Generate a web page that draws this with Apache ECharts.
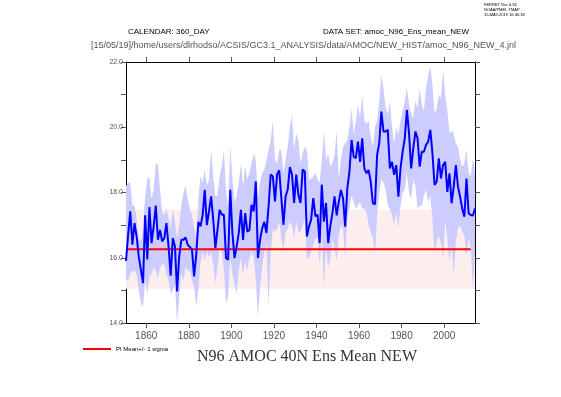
<!DOCTYPE html>
<html>
<head>
<meta charset="utf-8">
<script src="https://cdn.jsdelivr.net/npm/echarts@6/dist/echarts.min.js"></script>
<style>
  html, body { margin: 0; padding: 0; background: #ffffff; }
  #chart { width: 561px; height: 397px; }
</style>
</head>
<body>
<div id="chart"></div>
<script>
// annual means, first value is year 1850 (plotted at mid-year)
const FIRST_YEAR = 1850.5;

const amocMean = [
  15.9, 16.7, 17.42, 16.4, 17.06, 16.65, 16.04, 15.63, 15.22, 17.3,
  15.95, 17.55, 16.45, 16.96, 17.6, 16.55, 16.85, 16.5, 16.6, 17.06,
  16.35, 15.45, 16.6, 16.35, 14.97, 16.04, 16.55, 16.55, 16.62, 16.4,
  16.33, 16.25, 15.43, 16.1, 17.1, 16.96, 17.3, 18.08, 17.0, 17.42,
  17.88, 17.16, 16.3, 16.86, 17.47, 17.32, 17.32, 15.99, 15.94, 18.08,
  16.76, 15.99, 16.35, 16.76, 17.47, 16.55, 17.37, 16.8, 16.85, 17.62,
  17.42, 18.34, 15.99, 16.55, 16.9, 17.1, 16.76, 17.57, 18.55, 18.5,
  17.73, 18.55, 18.68, 17.83, 17.01, 17.88, 18.09, 18.78, 18.55, 17.68,
  18.55, 17.93, 17.68, 18.7, 18.65, 16.65, 16.96, 17.17, 17.83, 17.27,
  17.32, 16.45, 18.24, 17.11, 17.68, 16.45, 16.96, 17.37, 17.88, 17.3,
  17.72, 18.08, 17.82, 16.95, 18.13, 18.64, 19.61, 19.1, 19.05, 19.56,
  18.94, 19.66, 18.74, 18.59, 18.69, 18.33, 17.67, 17.64, 19.15, 19.51,
  20.48, 19.87, 19.87, 19.92, 18.74, 18.94, 18.54, 18.84, 17.87, 18.74,
  19.25, 19.66, 20.53, 19.81, 18.74, 19.35, 19.87, 19.66, 18.79, 19.25,
  19.25, 19.46, 19.56, 19.92, 19.2, 18.23, 18.33, 19.05, 18.43, 18.84,
  18.94, 18.02, 18.59, 17.67, 18.18, 18.84, 18.18, 17.87, 17.51, 17.26,
  18.43, 17.36, 17.31, 17.29, 17.51
];

const amocUpper = [
  18.2, 18.3, 18.3, 17.6, 17.6, 17.2, 16.6, 16.5, 16.9, 17.9,
  18.4, 18.5, 17.8, 18.1, 18.9, 18.85, 18.1, 17.4, 17.3, 17.5,
  17.2, 16.9, 17.5, 17.1, 16.6, 17.0, 17.6, 18.0, 18.2, 17.8,
  17.5, 17.3, 16.9, 16.6, 17.8, 18.5, 18.3, 18.7, 18.2, 18.4,
  19.3, 18.5, 17.9, 17.9, 18.5, 18.8, 19.3, 18.0, 17.6, 19.45,
  18.4, 17.7, 17.9, 18.3, 18.9, 18.2, 18.8, 18.4, 18.6, 18.9,
  19.2, 19.0, 17.8, 18.3, 18.6, 18.7, 19.0, 19.3, 19.6, 20.2,
  19.0, 18.9, 19.3, 19.3, 18.6, 19.0, 19.4, 20.0, 20.4, 19.3,
  19.8, 19.6, 18.9, 19.2, 19.4, 19.3, 18.4, 18.4, 18.5, 18.6,
  18.4, 18.3, 19.0, 19.9, 19.0, 19.2, 18.8, 18.9, 19.15, 19.9,
  18.4, 19.0, 19.4, 19.5, 19.6, 20.0, 20.6, 19.8, 20.2, 20.7,
  20.3, 21.0, 20.2, 20.1, 20.2, 19.7, 19.4, 20.0, 20.2, 20.8,
  21.6, 21.2, 20.6, 20.4, 20.8, 20.0, 19.5, 20.0, 19.8, 20.2,
  20.5, 20.8, 21.2, 20.7, 20.4, 20.3, 20.8, 20.6, 21.2, 20.7,
  20.5, 21.2, 21.6, 21.86, 21.3, 20.4, 20.6, 21.0, 20.9, 21.76,
  21.0, 20.5, 19.8, 19.9, 19.8, 19.5, 19.4, 19.0, 18.8, 18.9,
  19.3, 18.6, 18.5, 19.05, 18.6
];

const amocLower = [
  15.3, 15.3, 15.5, 15.6, 15.6, 15.5, 15.0, 14.6, 14.5, 15.3,
  14.9, 15.4, 15.5, 15.7, 15.6, 15.4, 15.7, 15.8, 15.8, 15.5,
  15.3, 14.9, 15.0, 15.2, 14.0, 14.8, 15.5, 15.3, 15.7, 15.6,
  15.6, 15.3, 15.1, 14.5, 15.0, 15.8, 16.2, 15.9, 16.2, 16.0,
  16.2, 15.8, 15.2, 15.7, 16.3, 16.2, 15.6, 14.6, 14.8, 16.0,
  15.5, 15.2, 14.9, 15.6, 16.0, 15.5, 15.9, 15.6, 16.0, 16.2,
  16.0, 15.3, 14.2, 15.1, 15.7, 16.2, 16.4, 14.5, 16.1, 16.9,
  16.8, 16.9, 17.1, 16.6, 16.25, 16.8, 16.9, 17.1, 17.0, 16.6,
  17.1, 16.8, 16.8, 17.0, 17.2, 15.94, 16.0, 16.2, 16.4, 16.6,
  16.6, 15.8, 16.6, 15.1, 16.3, 15.7, 16.0, 16.6, 16.3, 15.9,
  16.7, 17.0, 16.9, 16.0, 17.2, 17.5, 17.9, 17.7, 17.5, 17.6,
  17.7, 17.5, 17.5, 17.4, 17.0, 16.8, 16.6, 16.1, 17.3, 18.0,
  18.4, 18.3, 18.1, 17.6, 17.5, 17.3, 17.0, 17.4, 16.9, 17.6,
  18.0, 18.1, 18.6, 18.0, 17.8, 18.4, 18.2, 17.5, 17.6, 17.6,
  17.9, 18.1, 17.7, 17.9, 17.2, 16.1, 16.5, 16.7, 16.4, 15.98,
  17.1, 16.6, 15.88, 16.4, 15.47, 16.5, 16.9, 17.0, 16.8, 16.7,
  16.08, 16.6, 16.3, 15.06, 16.1
];

// pre-industrial control mean and spread
const PI_MEAN = 16.26;
const PI_SIGMA = 1.21;
const PI_LINE_END = 2012.5;

const X_TICKS = [1860, 1880, 1900, 1920, 1940, 1960, 1980, 2000];

const years = amocMean.map((_, i) => FIRST_YEAR + i);
const xMin = FIRST_YEAR;
const xMax = FIRST_YEAR + amocMean.length - 1;

const chart = echarts.init(document.getElementById("chart"));

const axisFont = "'Liberation Sans', Arial, sans-serif";
const boxLine = { show: true, lineStyle: { color: "#000000", width: 1 } };

const xAxisBase = {
  type: "value",
  min: xMin,
  max: xMax,
  axisLine: boxLine,
  splitLine: { show: false },
  axisTick: { show: true, inside: false, length: 5, customValues: X_TICKS, lineStyle: { color: "#555555" } }
};

const yAxisBase = {
  type: "value",
  min: 14,
  max: 22,
  interval: 1,
  axisLine: boxLine,
  splitLine: { show: false },
  axisTick: { show: true, inside: false, length: 5, lineStyle: { color: "#555555" } }
};

// ensemble spread drawn as one polygon: upper edge forward, lower edge back
function renderSpread(params, api) {
  if (params.dataIndex !== 0) {
    return null;
  }
  const pts = [];
  for (let i = 0; i < years.length; i++) {
    pts.push(api.coord([years[i], amocUpper[i]]));
  }
  for (let i = years.length - 1; i >= 0; i--) {
    pts.push(api.coord([years[i], amocLower[i]]));
  }
  return {
    type: "polygon",
    shape: { points: pts },
    style: { fill: "#ccccff", stroke: null }
  };
}

const option = {
  animation: false,
  backgroundColor: "#ffffff",
  grid: { left: 126, top: 62, width: 349, height: 261 },
  legend: {
    data: ["PI Mean+/- 1 sigma"],
    left: 78,
    top: 341,
    icon: "rect",
    itemWidth: 28,
    itemHeight: 2,
    itemGap: 4,
    textStyle: { fontSize: 6, color: "#000000", fontFamily: axisFont }
  },
  xAxis: [
    Object.assign({}, xAxisBase, {
      position: "bottom",
      axisLabel: {
        customValues: X_TICKS,
        fontSize: 10,
        color: "#555555",
        fontFamily: axisFont,
        margin: 8,
        formatter: v => String(v)
      }
    }),
    Object.assign({}, xAxisBase, {
      position: "top",
      axisLabel: { show: false }
    })
  ],
  yAxis: [
    Object.assign({}, yAxisBase, {
      position: "left",
      axisLabel: {
        fontSize: 7,
        color: "#555555",
        fontFamily: axisFont,
        margin: 3,
        formatter: v => (v % 2 === 0 ? v.toFixed(1) : "")
      }
    }),
    Object.assign({}, yAxisBase, {
      position: "right",
      axisLabel: { show: false }
    })
  ],
  series: [
    {
      name: "pi band",
      type: "line",
      symbol: "none",
      silent: true,
      z: 1,
      lineStyle: { width: 0, opacity: 0 },
      data: [[xMin, PI_MEAN], [xMax, PI_MEAN]],
      markArea: {
        silent: true,
        itemStyle: { color: "#fdeeee" },
        data: [[
          { xAxis: xMin, yAxis: PI_MEAN - PI_SIGMA },
          { xAxis: xMax, yAxis: PI_MEAN + PI_SIGMA }
        ]]
      }
    },
    {
      name: "spread",
      type: "custom",
      silent: true,
      z: 2,
      clip: true,
      renderItem: renderSpread,
      encode: { x: 0, y: [1, 2] },
      data: years.map((y, i) => [y, amocLower[i], amocUpper[i]])
    },
    {
      name: "PI Mean+/- 1 sigma",
      type: "line",
      symbol: "none",
      silent: true,
      z: 3,
      itemStyle: { color: "#ff0000" },
      lineStyle: { color: "#ff0000", width: 2 },
      data: [[xMin, PI_MEAN], [PI_LINE_END, PI_MEAN]]
    },
    {
      name: "ens mean",
      type: "line",
      symbol: "none",
      silent: true,
      z: 4,
      lineStyle: { color: "#0000ff", width: 2 },
      data: years.map((y, i) => [y, amocMean[i]])
    }
  ],
  graphic: [
    {
      type: "text", left: 128, top: 28,
      style: { text: "CALENDAR: 360_DAY", fill: "#000000", fontSize: 8, fontFamily: axisFont }
    },
    {
      type: "text", left: 323, top: 28,
      style: { text: "DATA SET: amoc_N96_Ens_mean_NEW", fill: "#000000", fontSize: 8, fontFamily: axisFont }
    },
    {
      type: "text", left: 91, top: 41,
      style: {
        text: "[15/05/19]/home/users/dlrhodso/ACSIS/GC3.1_ANALYSIS/data/AMOC/NEW_HIST/amoc_N96_NEW_4.jnl",
        fill: "#555555", fontSize: 9, fontFamily: axisFont
      }
    },
    {
      type: "text", left: 484, top: 2,
      style: {
        text: "FERRET Ver. 6.82\nNOAA/PMEL TMAP\n15-MAY-2019 16:46:38",
        fill: "#000000", fontSize: 4, lineHeight: 5, align: "center", fontFamily: axisFont,
        x: 16
      }
    },
    {
      type: "text", left: 197, top: 349,
      style: {
        text: "N96 AMOC 40N Ens Mean NEW",
        fill: "#333333", fontSize: 16, fontFamily: "'Liberation Serif', 'DejaVu Serif', serif"
      }
    }
  ]
};

chart.setOption(option);
</script>
</body>
</html>
